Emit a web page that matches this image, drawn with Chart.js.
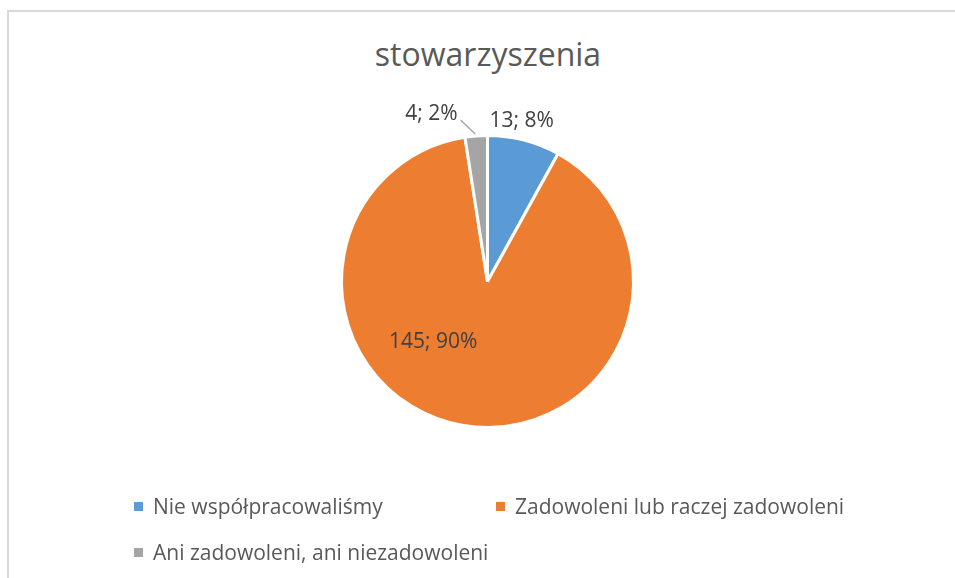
<!DOCTYPE html>
<html>
<head>
<meta charset="utf-8">
<script src="https://cdn.jsdelivr.net/npm/chart.js@4/dist/chart.umd.min.js"></script>
<style>
  html, body { margin: 0; padding: 0; background: #fff; }
  #wrap { position: relative; width: 955px; height: 578px; overflow: hidden; font-family: 'Open Sans', sans-serif; color: #595959; }
  #frame { position: absolute; left: 7px; top: 10px; width: 960px; height: 600px; border: 2px solid #d9d9d9; box-sizing: border-box; }
  #title { position: absolute; left: 0; width: 976px; top: 31px; text-align: center; font-size: 32px; line-height: 46px; }
  canvas { position: absolute; left: 0; top: 0; }
  .leg { position: absolute; font-size: 21px; line-height: 26px; white-space: nowrap; }
  .leg i { position: absolute; left: -19px; top: 9px; width: 9px; height: 9px; }
</style>
</head>
<body>
<div id="wrap">
  <div id="frame"></div>
  <div id="title">stowarzyszenia</div>
  <canvas id="c" width="955" height="578"></canvas>
  <div id="legend"></div>
</div>
<script>
// dane z wykresu
const CATEGORIES = ['Nie współpracowaliśmy', 'Zadowoleni lub raczej zadowoleni', 'Ani zadowoleni, ani niezadowoleni'];
const VALUES = [13, 145, 4];
const COLORS = ['#5b9bd5', '#ed7d31', '#a5a5a5'];

// położenie etykiet: kąt (stopnie od góry) i odległość jako ułamek promienia
const LABEL_POS = [
  { angle: 12, dist: 1.125, leader: false },
  { angle: 222, dist: 0.555, leader: false },
  { angle: -18.5, dist: 1.21, leader: true }
];
// pozycje legendy
const LEGEND_POS = [[153, 493], [515, 493], [153, 539]];

const total = VALUES.reduce((a, b) => a + b, 0);

const dataLabels = {
  id: 'dataLabels',
  afterDatasetsDraw(chart) {
    const ctx = chart.ctx;
    const meta = chart.getDatasetMeta(0);
    ctx.save();
    ctx.font = "21px 'Open Sans', sans-serif";
    ctx.fillStyle = '#404040';
    ctx.textAlign = 'center';
    ctx.textBaseline = 'middle';
    meta.data.forEach((arc, i) => {
      const p = LABEL_POS[i];
      const r = arc.outerRadius;
      const a = p.angle * Math.PI / 180;
      const x = arc.x + Math.sin(a) * r * p.dist;
      const y = arc.y - Math.cos(a) * r * p.dist;
      const pct = Math.round(VALUES[i] / total * 100);
      const txt = VALUES[i] + '; ' + pct + '%';
      if (p.leader) {
        const mid = (arc.startAngle + arc.endAngle) / 2;
        const ex = arc.x + Math.cos(mid) * r;
        const ey = arc.y + Math.sin(mid) * r;
        const w = ctx.measureText(txt).width;
        ctx.strokeStyle = '#a6a6a6';
        ctx.lineWidth = 1.5;
        ctx.beginPath();
        ctx.moveTo(x + w / 2 + 3, y + 6);
        ctx.lineTo(ex - 1, ey - 2);
        ctx.stroke();
      }
      ctx.fillText(txt, x, y);
    });
    ctx.restore();
  }
};

new Chart(document.getElementById('c'), {
  type: 'pie',
  data: {
    labels: CATEGORIES,
    datasets: [{
      data: VALUES,
      backgroundColor: COLORS,
      borderColor: '#ffffff',
      borderWidth: 3
    }]
  },
  options: {
    responsive: false,
    animation: false,
    layout: { padding: { left: 340, right: 320, top: 134, bottom: 149 } },
    plugins: { legend: { display: false }, tooltip: { enabled: false }, title: { display: false } }
  },
  plugins: [dataLabels]
});

const leg = document.getElementById('legend');
CATEGORIES.forEach((c, i) => {
  leg.innerHTML += `<div class="leg" style="left:${LEGEND_POS[i][0]}px;top:${LEGEND_POS[i][1]}px"><i style="background:${COLORS[i]}"></i>${c}</div>`;
});
</script>
</body>
</html>
